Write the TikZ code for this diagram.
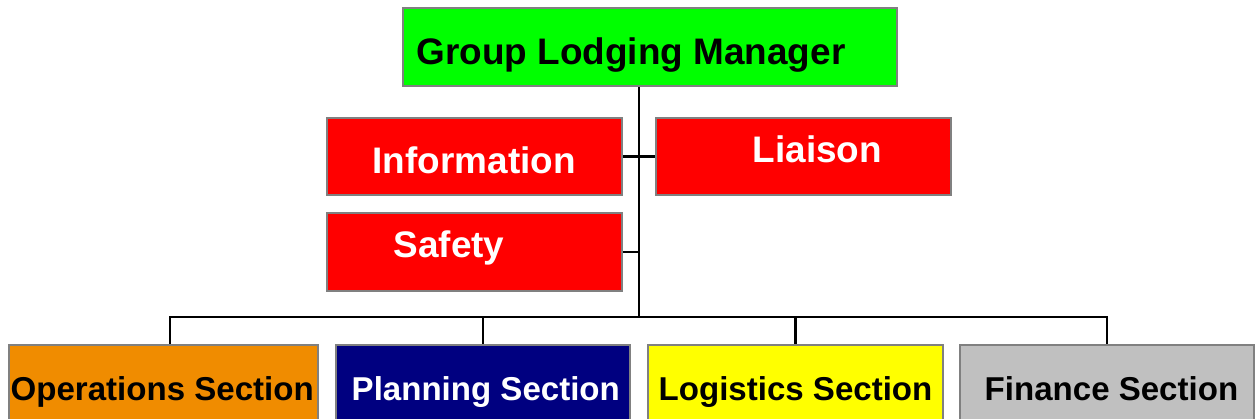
\documentclass[tikz,border=0pt]{standalone}
\usepackage{fontspec}
\setmainfont{Liberation Sans}
\usetikzlibrary{positioning}

\definecolor{mgrgreen}{RGB}{0,255,0}
\definecolor{staffred}{RGB}{255,0,0}
\definecolor{opsorange}{RGB}{240,140,0}
\definecolor{plannavy}{RGB}{0,0,128}
\definecolor{logyellow}{RGB}{255,255,0}
\definecolor{finsilver}{RGB}{192,192,192}
\definecolor{edgegray}{RGB}{128,128,128}

\tikzset{
  box/.style={draw=edgegray, line width=0.6pt, inner sep=0pt},
  staff/.style={box, fill=staffred, minimum width=2.95cm, minimum height=0.77cm},
  section/.style={box, minimum width=2.94cm, minimum height=0.8cm},
  title/.style={anchor=base west, inner sep=0pt, font=\bfseries\fontsize{10.5}{12}\selectfont},
  subtitle/.style={anchor=base west, inner sep=0pt, font=\bfseries\fontsize{9.4}{11}\selectfont},
  wire/.style={black, line width=0.6pt}
}

\begin{document}
\begin{tikzpicture}[x=0.01cm, y=-0.01cm]
\useasboundingbox (0,0) rectangle (1255,419);

% manager and command staff
\node[box, fill=mgrgreen, minimum width=4.94cm, minimum height=0.78cm] (gm) at (650,47) {};
\node[title] (gmtext) at (416,65) {Group Lodging Manager};
\node[staff] (info) at (474.5,156.5) {};
\node[title, white] (infotext) at (372,174) {Information};
\node[staff] (liaison) at (803.5,156.5) {};
\node[title, white] (liaisontext) at (752,163) {Liaison};
\node[staff, minimum height=0.78cm] (safety) at (474.5,252) {};
\node[title, white] (safetytext) at (393,258) {Safety};

% general staff sections
\node[section, fill=opsorange, minimum width=3.09cm] (ops) at (163.5,385) {};
\node[subtitle] (opstext) at (10,401) {Operations Section};
\node[section, fill=plannavy] (plan) at (483,385) {};
\node[subtitle, white] (plantext) at (351,401) {Planning Section};
\node[section, fill=logyellow, minimum width=2.95cm] (log) at (795.5,385) {};
\node[subtitle] (logtext) at (658,401) {Logistics Section};
\node[section, fill=finsilver, minimum width=2.93cm] (fin) at (1107,385) {};
\node[subtitle] (fintext) at (984,401) {Finance Section};

% lines
\coordinate (hub) at (639,318);
\draw[wire] (gm.south -| hub) -- (hub);
\draw[wire] (info.east) -- (liaison.west);
\draw[wire] (safety.east) -- (safety.east -| hub);
\draw[wire] ([xshift=0.065cm]ops.north) -- ++(0,-27) -| (fin.north);
\draw[wire] (plan.north) -- (plan.north |- hub);
\draw[wire] (log.north) -- (log.north |- hub);
\end{tikzpicture}
\end{document}
